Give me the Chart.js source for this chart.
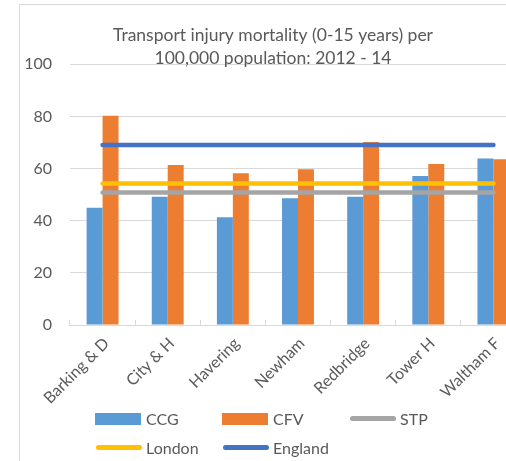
<!DOCTYPE html>
<html>
<head>
<meta charset="utf-8">
<script src="https://cdn.jsdelivr.net/npm/chart.js@4/dist/chart.umd.min.js"></script>
<style>
  html, body { margin: 0; padding: 0; overflow: hidden; background: #fff; width: 506px; height: 461px; }
  #frame { position: absolute; left: 19px; top: 4px; width: 640px; height: 640px; border: 1px solid #d9d9d9; }
  #wrap { position: absolute; left: 20px; top: 5px; width: 530px; height: 420px; }
  #legend {
    position: absolute; left: 95px; top: 404px;
    display: grid; grid-template-columns: 127px 127px 127px; grid-auto-rows: 29px;
    font-family: Lato, sans-serif; font-size: 16px; color: #595959;
  }
  .item { display: flex; align-items: center; }
  .swatch { width: 46px; margin-right: 5px; }
  .box { height: 12px; }
  .line { height: 4.5px; border-radius: 3px; margin-left: 1px; margin-right: 4px; }
</style>
</head>
<body>
<div id="frame"></div>
<div id="wrap"><canvas class="graphic"></canvas></div>
<div id="legend"></div>
<script>
const categories = ["Barking & D", "City & H", "Havering", "Newham", "Redbridge", "Tower H", "Waltham F"];
const ccg = [45.0, 49.2, 41.3, 48.6, 49.2, 57.2, 63.9];
const cfv = [80.3, 61.4, 58.2, 59.7, 70.2, 61.8, 63.6];
const stp = [50.8, 50.8, 50.8, 50.8, 50.8, 50.8, 50.8];
const london = [54.3, 54.3, 54.3, 54.3, 54.3, 54.3, 54.3];
const england = [69.0, 69.0, 69.0, 69.0, 69.0, 69.0, 69.0];
const yTicks = [0, 20, 40, 60, 80, 100];
const titleLines = ["Transport injury mortality (0-15 years) per", "100,000 population: 2012 - 14"];

const graphic = document.querySelector(".graphic");
const legend = document.querySelector("#legend");

Chart.defaults.font.family = "Lato, sans-serif";
Chart.defaults.font.size = 16;
Chart.defaults.color = "#595959";

const lineSet = (label, data, color) => ({
  type: "line",
  label,
  data,
  borderColor: color,
  backgroundColor: color,
  borderWidth: 4.5,
  borderCapStyle: "round",
  pointRadius: 0,
  fill: false,
  order: 1,
});

const data = {
  labels: categories,
  datasets: [
    { label: "CCG", data: ccg, backgroundColor: "#5b9bd5", order: 2 },
    { label: "CFV", data: cfv, backgroundColor: "#ed7d31", order: 2 },
    lineSet("STP", stp, "#a5a5a5"),
    lineSet("London", london, "#ffc000"),
    lineSet("England", england, "#4472c4"),
  ],
};

const config = {
  type: "bar",
  data,
  options: {
    responsive: true,
    maintainAspectRatio: false,
    animation: false,
    layout: { padding: { left: 0, right: 24, top: 0, bottom: 0 } },
    datasets: { bar: { categoryPercentage: 0.49, barPercentage: 1 } },
    plugins: {
      legend: { display: false },
      tooltip: { enabled: false },
      title: {
        display: true,
        text: titleLines,
        color: "#595959",
        font: { size: 17.5, weight: "normal", lineHeight: 23 / 17.5 },
        padding: { top: 19, bottom: -5.7 },
      },
    },
    scales: {
      x: {
        afterFit: (scale) => { scale.height = 100; },
        grid: { drawOnChartArea: false, color: "#d9d9d9", tickLength: -5 },
        border: { color: "#d9d9d9" },
        ticks: { maxRotation: 45, minRotation: 45, padding: 14, labelOffset: 4, color: "#595959" },
      },
      y: {
        min: 0,
        max: 100,
        afterFit: (scale) => { scale.width = 50; },
        afterBuildTicks: (scale) => { scale.ticks = yTicks.map((v) => ({ value: v })); },
        grid: { color: "#d9d9d9", drawTicks: false },
        border: { display: false },
        ticks: { padding: 18, color: "#595959" },
      },
    },
  },
};

const chartInstance = new Chart(graphic.getContext("2d"), config);

// leyenda en html, en cuadricula como en el original
chartInstance.data.datasets.forEach((ds) => {
  const item = document.createElement("div");
  item.className = "item";
  const sw = document.createElement("div");
  sw.className = "swatch " + (ds.type === "line" ? "line" : "box");
  sw.style.background = ds.type === "line" ? ds.borderColor : ds.backgroundColor;
  const txt = document.createElement("span");
  txt.textContent = ds.label;
  item.appendChild(sw);
  item.appendChild(txt);
  legend.appendChild(item);
});
</script>
</body>
</html>
